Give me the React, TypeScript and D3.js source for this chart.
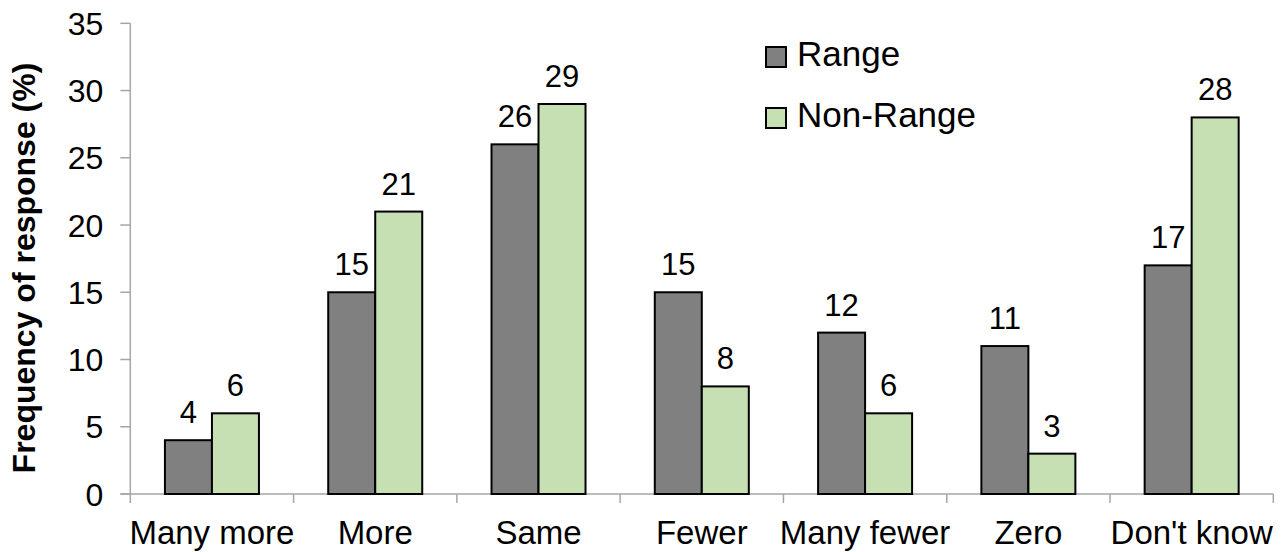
import React from "react";
import * as d3 from "d3";

const categories = ["Many more", "More", "Same", "Fewer", "Many fewer", "Zero", "Don't know"];
const seriesNames = ["Range", "Non-Range"];
const rangeValues = [4, 15, 26, 15, 12, 11, 17];
const nonRangeValues = [6, 21, 29, 8, 6, 3, 28];
const yTicks = [0, 5, 10, 15, 20, 25, 30, 35];
const seriesColors = ["#808080", "#c6e0b4"];

const W = 1286;
const H = 552;
const left = 130.3;
const right = 1273.3;
const top = 23.3;
const bottom = 494;
const font = "Liberation Sans, Arial, Helvetica, sans-serif";
const axisColor = "#a6a6a6";

export default function App() {
  const x = d3.scaleBand<string>().domain(categories).range([left, right]).padding(0);
  const xs = d3
    .scaleBand<string>()
    .domain(seriesNames)
    .range([0, x.bandwidth()])
    .paddingInner(0)
    .paddingOuter(0.737);
  const y = d3.scaleLinear().domain([0, 35]).range([bottom, top]);
  const values = [rangeValues, nonRangeValues];
  const boundaries = categories.map((c) => x(c)!).concat([right]);

  return (
    <svg
      width={W}
      height={H}
      style={{ position: "absolute", left: 0, top: 0, display: "block", background: "#fff" }}
      fontFamily={font}
    >
      {/* y axis */}
      <line x1={left} x2={left} y1={top} y2={bottom} stroke={axisColor} strokeWidth={1.5} />
      {yTicks.map((t) => (
        <g key={t}>
          <line x1={left - 10} x2={left} y1={y(t)} y2={y(t)} stroke={axisColor} strokeWidth={1.5} />
          <text x={left - 27} y={y(t)} dy="0.36em" textAnchor="end" fontSize={32} fill="#000">
            {t}
          </text>
        </g>
      ))}
      {/* x axis */}
      <line x1={left - 10} x2={right} y1={bottom} y2={bottom} stroke={axisColor} strokeWidth={1.5} />
      {boundaries.map((b, i) => (
        <line key={i} x1={b} x2={b} y1={bottom} y2={bottom + 9} stroke={axisColor} strokeWidth={1.5} />
      ))}
      {categories.map((c) => (
        <text
          key={c}
          x={x(c)! + x.bandwidth() / 2}
          y={544}
          textAnchor="middle"
          fontSize={33}
          fill="#000"
        >
          {c}
        </text>
      ))}
      {/* bars */}
      {seriesNames.map((s, si) =>
        categories.map((c, ci) => {
          const v = values[si][ci];
          const bx = x(c)! + xs(s)!;
          return (
            <g key={s + c}>
              <rect
                x={bx}
                y={y(v)}
                width={xs.bandwidth()}
                height={y(0) - y(v)}
                fill={seriesColors[si]}
                stroke="#000"
                strokeWidth={2}
              />
              <text
                x={bx + xs.bandwidth() / 2}
                y={y(v) - 17}
                textAnchor="middle"
                fontSize={31}
                fill="#000"
              >
                {v}
              </text>
            </g>
          );
        })
      )}
      {/* y title */}
      <text
        transform={`translate(35,268) rotate(-90)`}
        textAnchor="middle"
        fontSize={32}
        fontWeight="bold"
        fill="#000"
      >
        Frequency of response (%)
      </text>
      {/* legend */}
      {seriesNames.map((s, i) => (
        <g key={s} transform={`translate(766,${47 + i * 61})`}>
          <rect x={0} y={0} width={20} height={20} fill={seriesColors[i]} stroke="#000" strokeWidth={2} />
          <text x={31} y={19} fontSize={35} fill="#000">
            {s}
          </text>
        </g>
      ))}
    </svg>
  );
}
